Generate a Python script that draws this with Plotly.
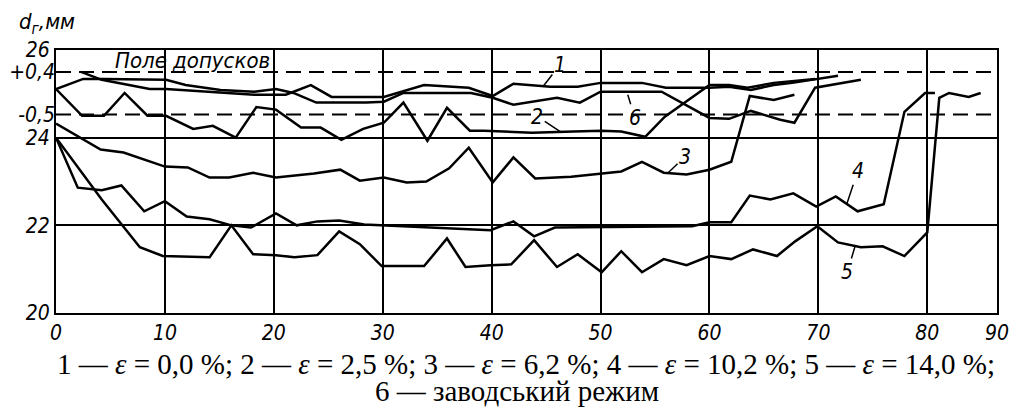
import plotly.graph_objects as go

# ---------------- data ----------------
# x: length coordinate (0..90), y: d_г, mm
X1 = [2.3, 4.2, 6.7, 8.6, 10.1, 15.1, 18.2, 21.1, 23.4, 25.3, 30.1, 33.8, 36.0, 37.9, 40.1, 42.0,
      45.4, 47.9, 50.0, 53.8, 56.0, 60.0, 61.8, 63.8, 65.9, 67.6, 71.8]
Y1 = [25.5, 25.32, 25.2, 25.11, 25.11, 25.02, 24.98, 24.98, 25.2, 24.93, 24.93, 25.2, 25.16, 25.14,
      24.95, 25.23, 25.16, 25.16, 25.25, 25.25, 25.14, 25.14, 25.16, 25.09, 25.2, 25.25, 25.41]

X2 = [0, 2.4, 4.4, 6.3, 8.4, 10.1, 12.6, 14.4, 16.5, 18.4, 20.2, 22.5, 24.3, 26.2, 28.2, 30.1,
      31.9, 34.1, 35.9, 38.0, 39.3, 43.7, 47.5, 50.1, 51.9, 54.1, 55.9, 60.0, 61.8, 63.5, 65.9, 69.7]
Y2 = [25.11, 24.5, 24.5, 25.02, 24.5, 24.5, 24.2, 24.27, 24.0, 24.7, 24.64, 24.23, 24.23, 23.95,
      24.2, 24.34, 24.8, 23.93, 24.68, 24.16, 24.16, 24.11, 24.14, 24.16, 24.14, 24.02, 24.48,
      25.2, 25.2, 25.14, 25.25, 25.34]

X3 = [0, 4.1, 6.2, 10.0, 12.1, 14.1, 15.9, 18.1, 20.2, 23.7, 26.1, 27.9, 30.1, 32.2, 34.0, 36.1,
      37.9, 40.1, 42.0, 44.0, 47.3, 50.1, 51.9, 53.8, 55.8, 57.9, 60.0, 62.0, 63.7, 65.9, 67.8]
Y3 = [24.32, 23.73, 23.66, 23.34, 23.32, 23.09, 23.09, 23.2, 23.09, 23.18, 23.27, 23.02, 23.09,
      22.98, 23.0, 23.3, 23.77, 22.98, 23.55, 23.07, 23.11, 23.18, 23.23, 23.45, 23.2, 23.16,
      23.27, 23.45, 24.95, 24.86, 24.98]

X4 = [0, 2.0, 4.2, 6.0, 8.1, 10.0, 12.0, 14.1, 16.1, 17.9, 20.2, 22.1, 24.0, 26.0, 28.3, 30.1,
      35.7, 39.9, 42.0, 43.9, 45.8, 55.5, 58.4, 60.0, 62.0, 63.7, 65.6, 67.7, 69.8, 71.6, 73.6,
      76.0, 77.9, 79.8, 80.7]
Y4 = [24.0, 22.86, 22.8, 22.91, 22.32, 22.55, 22.2, 22.14, 22.0, 21.95, 22.27, 22.0, 22.09, 22.11,
      22.02, 22.0, 21.95, 21.89, 22.09, 21.75, 21.95, 21.98, 21.98, 22.07, 22.07, 22.68, 22.59,
      22.73, 22.43, 22.66, 22.32, 22.48, 24.59, 25.02, 25.02]

X5 = [0, 4.2, 7.7, 9.8, 14.1, 16.1, 18.1, 20.2, 21.9, 24.0, 26.0, 27.9, 29.9, 33.8, 35.9, 37.6,
      39.9, 41.8, 43.9, 46.0, 47.9, 50.1, 51.9, 53.8, 55.8, 57.9, 60.0, 62.0, 64.0, 66.2, 67.9,
      69.9, 71.8, 73.9, 75.9, 77.9, 80.0, 81.1, 82.0, 83.8, 84.9]
Y5 = [24.0, 22.59, 21.5, 21.3, 21.27, 22.0, 21.34, 21.32, 21.27, 21.32, 21.86, 21.57, 21.07,
      21.07, 21.7, 21.05, 21.09, 21.11, 21.66, 21.05, 21.34, 20.93, 21.41, 20.93, 21.23, 21.09,
      21.3, 21.23, 21.45, 21.3, 21.64, 21.98, 21.61, 21.5, 21.52, 21.3, 21.84, 24.91, 25.02,
      24.93, 25.02]

X6 = [0, 2.5, 4.4, 10.1, 11.9, 15.1, 18.2, 20.2, 21.8, 23.9, 28.5, 30.1, 31.9, 35.6, 38.1, 40.1,
      42.0, 46.0, 48.1, 50.0, 55.6, 60.0, 61.8, 63.8, 66.5, 67.8, 69.7, 73.9]
Y6 = [25.11, 25.34, 25.34, 25.32, 25.2, 25.09, 25.05, 25.11, 25.02, 24.8, 24.8, 24.82, 25.02,
      25.02, 25.02, 24.91, 24.75, 24.91, 24.8, 25.05, 25.05, 24.45, 24.43, 24.61, 24.41, 24.34,
      25.14, 25.32]

TOL_UP = 25.5      # "+0,4"
TOL_LOW = 24.53    # "-0,5"
X_MAX = 86.4

X_TICKS = [0, 10, 20, 30, 40, 50, 60, 70, 80, X_MAX]
X_TICKTEXT = ["0", "10", "20", "30", "40", "50", "60", "70", "80", "90"]
Y_TICKS = [20, 22, 24, 26]
Y_TICKTEXT = ["20", "22", "24", "26"]
TOL_TICKS = [TOL_LOW, TOL_UP]
TOL_TICKTEXT = ["-0,5", "+0,4"]

# curve labels: (text, x, y of the curve point, ax, ay pixel offsets)
LABELS = [("1", 44.7, 25.16, 17, -22),
          ("2", 46.3, 24.14, -23, -15),
          ("3", 56.2, 23.2, 17, -16),
          ("4", 72.6, 22.48, 11, -33),
          ("5", 73.4, 21.55, -8, 27),
          ("6", 52.5, 24.98, 7, 23)]

# ---------------- figure ----------------
FAM = "Liberation Sans Narrow, DejaVu Sans Condensed, Arial Narrow, DejaVu Sans"
ITAL = dict(family=FAM, size=21, color="black", style="italic")
TICKF = dict(family=FAM, size=21, color="black", style="italic")
LW = 2.5

# the page body adds an 8px offset; margins compensate for it
PAGE_OFF = 8


def it(labels):
    return ["<i>" + t + "</i>" for t in labels]


fig = go.Figure()
for xs, ys in [(X1, Y1), (X2, Y2), (X3, Y3), (X4, Y4), (X5, Y5), (X6, Y6)]:
    fig.add_trace(go.Scatter(x=xs, y=ys, mode="lines",
                             line=dict(color="black", width=LW), hoverinfo="skip"))

for lvl in (TOL_UP, TOL_LOW):
    fig.add_trace(go.Scatter(x=[0, X_MAX], y=[lvl, lvl], mode="lines",
                             line=dict(color="black", width=2, dash="15px,8px"),
                             hoverinfo="skip"))

# invisible trace on the second y axis so that it is drawn
fig.add_trace(go.Scatter(x=[0], y=[TOL_UP], yaxis="y2", mode="markers",
                         marker=dict(opacity=0), hoverinfo="skip"))

for txt, x, y, ax, ay in LABELS:
    fig.add_annotation(x=x, y=y, text="<i>" + txt + "</i>", showarrow=True, arrowhead=0,
                       arrowwidth=1.5, arrowcolor="black", ax=ax, ay=ay, font=ITAL,
                       standoff=0)

fig.add_annotation(x=12.5, y=25.76, text="<i>Поле допусков</i>", showarrow=False,
                   font=dict(ITAL, size=22))

fig.add_annotation(xref="paper", yref="paper", x=-0.041, y=1.10, xanchor="left",
                   yanchor="middle", text="<i>d<sub>г</sub>,мм</i>", showarrow=False,
                   font=dict(ITAL, size=22))

CAP = dict(family="Liberation Serif, Times New Roman, serif", size=29, color="black")
fig.add_annotation(xref="paper", yref="paper", x=0.499, y=-0.194, xanchor="center",
                   yanchor="middle", showarrow=False, font=CAP,
                   text="1 — <i>ε</i> = 0,0 %; 2 — <i>ε</i> = 2,5 %; 3 — <i>ε</i> = 6,2 %; "
                        "4 — <i>ε</i> = 10,2 %; 5 — <i>ε</i> = 14,0 %;")
fig.add_annotation(xref="paper", yref="paper", x=0.490, y=-0.298, xanchor="center",
                   yanchor="middle", showarrow=False, font=CAP,
                   text="6 — заводський режим")

fig.update_layout(
    width=1031, height=412,
    margin=dict(l=56 - PAGE_OFF, r=34 + PAGE_OFF, t=50 - PAGE_OFF, b=99 + PAGE_OFF),
    paper_bgcolor="white", plot_bgcolor="white",
    showlegend=False,
    xaxis=dict(range=[0, X_MAX], tickvals=X_TICKS, ticktext=it(X_TICKTEXT),
               showgrid=True, gridcolor="black", gridwidth=1.5, zeroline=False,
               showline=True, linecolor="black", linewidth=2, mirror=True,
               ticks="", tickfont=TICKF, automargin=False),
    yaxis=dict(range=[20, 26], tickvals=Y_TICKS, ticktext=it(Y_TICKTEXT),
               showgrid=True, gridcolor="black", gridwidth=1.5, zeroline=False,
               showline=True, linecolor="black", linewidth=2, mirror=True,
               ticks="", tickfont=TICKF, automargin=False),
    yaxis2=dict(range=[20, 26], overlaying="y", side="left", anchor="x",
                tickvals=TOL_TICKS, ticktext=it(TOL_TICKTEXT), showgrid=False,
                zeroline=False, showline=False, ticks="", tickfont=TICKF,
                automargin=False),
)

fig.write_html("out.html")
